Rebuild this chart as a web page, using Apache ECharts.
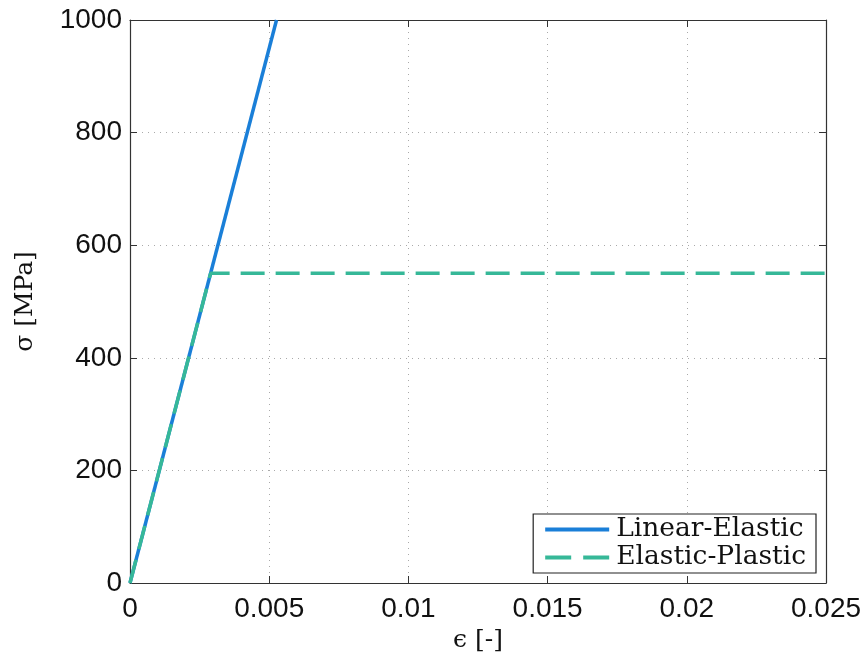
<!DOCTYPE html>
<html>
<head>
<meta charset="utf-8">
<script src="https://cdn.jsdelivr.net/npm/echarts@6/dist/echarts.min.js"></script>
<style>html,body{margin:0;padding:0;background:#fff}#c{width:868px;height:658px}</style>
</head>
<body>
<div id="c"></div>
<script>
// Data
const seriesNames = ['Linear-Elastic', 'Elastic-Plastic'];
const linearStrain = [0, 0.005263];
const linearStress = [0, 1000];
const plasticStrain = [0, 0.002895, 0.025];
const plasticStress = [0, 550, 550];
const xTicks = [0, 0.005, 0.01, 0.015, 0.02, 0.025];
const yTicks = [0, 200, 400, 600, 800, 1000];

const blue = '#1a7fd8';
const green = '#36b898';
const zip = (a, b) => a.map((v, i) => [v, b[i]]);
const serif = 'DejaVu Serif, Liberation Serif, serif';

const chart = echarts.init(document.getElementById('c'), null, {renderer: 'canvas'});
const tickFont = {fontFamily: 'Liberation Sans, Arial, sans-serif', fontSize: 28, color: '#111'};
const baseX = {
  type: 'value', min: xTicks[0], max: xTicks[xTicks.length - 1], interval: 0.005,
  axisLine: {show: true, onZero: false, lineStyle: {color: '#333', width: 1.2}},
  axisTick: {show: true, inside: true, length: 7, lineStyle: {color: '#333'}}
};
const baseY = {
  type: 'value', min: yTicks[0], max: yTicks[yTicks.length - 1], interval: 200,
  axisLine: {show: true, onZero: false, lineStyle: {color: '#333', width: 1.2}},
  axisTick: {show: true, inside: true, length: 7, lineStyle: {color: '#333'}}
};
chart.setOption({
  animation: false,
  backgroundColor: '#fff',
  grid: {left: 130, right: 42, top: 20, bottom: 75, containLabel: false},
  legend: {
    orient: 'vertical', right: 52, bottom: 85,
    backgroundColor: '#fff', borderColor: '#222', borderWidth: 1.2,
    padding: [2, 10, 2, 12], itemGap: 1, itemWidth: 64, itemHeight: 4,
    textStyle: {fontFamily: serif, fontSize: 26.5, color: '#111', padding: [0, 0, 0, 2]},
    data: [
      {name: seriesNames[0], icon: 'path://M0,0H64V4H0Z', itemStyle: {color: blue}},
      {name: seriesNames[1], icon: 'path://M0,0H26V4H0ZM38,0H64V4H38Z', itemStyle: {color: green}}
    ]
  },
  xAxis: [
    Object.assign({}, baseX, {
      position: 'bottom',
      name: 'ϵ [-]', nameLocation: 'middle', nameGap: 40,
      nameTextStyle: {fontFamily: serif, fontSize: 25, color: '#111'},
      axisLabel: Object.assign({margin: 12, showMaxLabel: true, formatter: v => String(+v.toFixed(3))}, tickFont),
      splitLine: {show: true, lineStyle: {color: '#aaa', type: [1, 5], width: 1}}
    }),
    Object.assign({}, baseX, {position: 'top', axisLabel: {show: false}, splitLine: {show: false}})
  ],
  yAxis: [
    Object.assign({}, baseY, {
      position: 'left',
      name: 'σ [MPa]', nameLocation: 'middle', nameGap: 92, nameRotate: 90,
      nameTextStyle: {fontFamily: serif, fontSize: 25, color: '#111'},
      axisLabel: Object.assign({margin: 8, formatter: v => String(v)}, tickFont),
      splitLine: {show: true, lineStyle: {color: '#aaa', type: [1, 5], width: 1}}
    }),
    Object.assign({}, baseY, {position: 'right', axisLabel: {show: false}, splitLine: {show: false}})
  ],
  series: [
    {
      name: seriesNames[0], type: 'line', data: zip(linearStrain, linearStress),
      showSymbol: false, symbol: 'none', clip: true,
      lineStyle: {color: blue, width: 3.5}, itemStyle: {color: blue}, z: 2
    },
    {
      name: seriesNames[1], type: 'line', data: zip(plasticStrain, plasticStress),
      showSymbol: false, symbol: 'none', clip: true,
      lineStyle: {color: green, width: 3.5, type: [24, 11]}, itemStyle: {color: green}, z: 3
    }
  ]
});
</script>
</body>
</html>
